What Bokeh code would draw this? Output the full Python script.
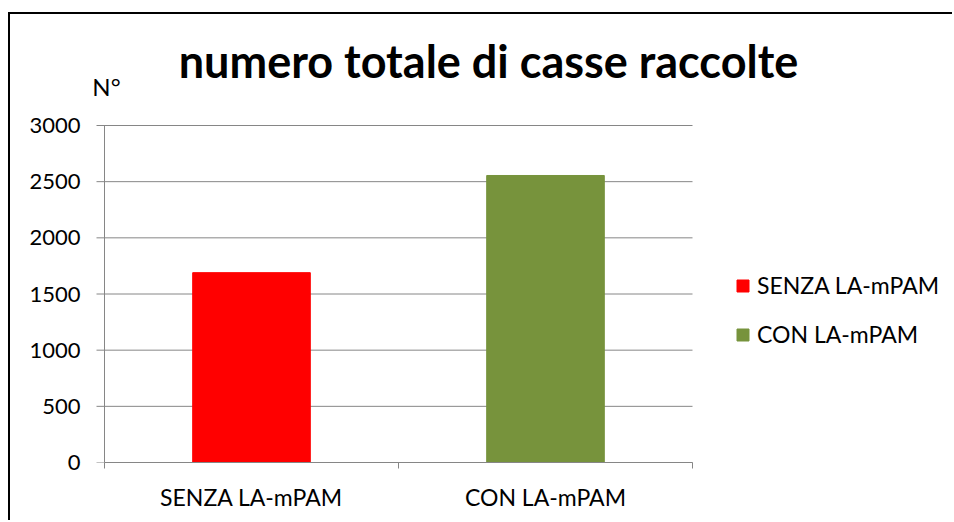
from bokeh.plotting import figure
from bokeh.layouts import column
from bokeh.models import ColumnDataSource, FixedTicker, Range1d, Label, InlineStyleSheet
from bokeh.embed import file_html
from bokeh.resources import INLINE

# ---- data ----
categories = ["SENZA LA-mPAM", "CON LA-mPAM"]
values = [1690, 2555]
colors = ["#FF0000", "#77933C"]
y_ticks = [0, 500, 1000, 1500, 2000, 2500, 3000]
title_text = "numero totale di casse raccolte"
y_unit = "N°"

n = len(categories)
x_pos = [i + 0.5 for i in range(n)]
x_bounds = list(range(n + 1))
src = ColumnDataSource(dict(x=x_pos, top=values, color=colors, cat=categories))

GRAY = "#868686"
FONT = "Lato"

# layout (canvas pixels; canvas starts at page x=10, y=14)
W, H = 944, 508
FRAME_L = 78                    # frame left edge
AXIS_X = 94                     # pixel of the value axis (x = 0)
FRAME_B = 448                   # frame bottom (0 value)
PX_3000 = 337                   # pixels from 0 to top tick
PX_CAT = 294                    # pixels per category
TICK = 8                        # tick length in pixels
y_end = y_ticks[-1] * FRAME_B / PX_3000
x_start = -(AXIS_X - FRAME_L) / PX_CAT
x_end = (W - AXIS_X) / PX_CAT

p = figure(width=W, height=H, output_backend="svg", toolbar_location=None,
           tools="", title=None,
           x_range=Range1d(x_start, x_end), y_range=Range1d(0, y_end),
           min_border_left=FRAME_L, min_border_right=0, min_border_top=0,
           min_border_bottom=H - FRAME_B)
p.toolbar.logo = None
p.outline_line_color = None
p.background_fill_color = "white"
p.border_fill_color = "white"

# grid lines with their outward tick marks, and the value-axis line
p.xgrid.grid_line_color = None
p.ygrid.grid_line_color = None
p.segment(x0=-TICK / PX_CAT, x1=n, y0=y_ticks, y1=y_ticks, line_color=GRAY, line_width=1)
p.segment(x0=[0], x1=[0], y0=[y_ticks[0]], y1=[y_ticks[-1]], line_color=GRAY, line_width=1)

p.vbar(x="x", top="top", width=0.4, color="color", source=src, legend_field="cat")

# y axis (tick labels only; line and ticks drawn above)
p.yaxis.ticker = FixedTicker(ticks=y_ticks, minor_ticks=[])
p.yaxis.axis_line_color = None
p.yaxis.major_tick_line_color = None
p.yaxis.major_tick_out = 0
p.yaxis.major_tick_in = 0
p.yaxis.minor_tick_line_color = None
p.yaxis.major_label_standoff = 8
p.yaxis.major_label_text_font = FONT
p.yaxis.major_label_text_font_size = "22px"
p.yaxis.major_label_text_color = "black"

# x axis
p.xaxis.bounds = (0, n)
p.xaxis.ticker = FixedTicker(ticks=x_pos, minor_ticks=x_bounds)
p.xaxis.major_label_overrides = {x: c for x, c in zip(x_pos, categories)}
p.xaxis.axis_line_color = GRAY
p.xaxis.major_tick_line_color = None
p.xaxis.major_tick_out = 0
p.xaxis.major_tick_in = 0
p.xaxis.minor_tick_line_color = GRAY
p.xaxis.minor_tick_out = 6
p.xaxis.minor_tick_in = 0
p.xaxis.major_label_standoff = 14
p.xaxis.major_label_text_font = FONT
p.xaxis.major_label_text_font_size = "23px"
p.xaxis.major_label_text_color = "black"

# title (as text inside the drawing area)
p.add_layout(Label(x=(488 - 104) / PX_CAT, y=y_ticks[-1], y_offset=65,
                   text=title_text, text_align="center", text_baseline="alphabetic",
                   text_font=FONT, text_font_style="bold", text_font_size="45px",
                   text_color="black"))

# unit label
p.add_layout(Label(x=0, y=y_ticks[-1], text=y_unit, x_offset=2, y_offset=39,
                   text_align="center", text_baseline="middle",
                   text_font=FONT, text_font_size="24px", text_color="black"))

# legend
lg = p.legend[0]
lg.location = (735 - 10 - FRAME_L, 114)
lg.padding = 0
lg.margin = 0
lg.border_line_color = None
lg.background_fill_alpha = 0
lg.glyph_width = 15
lg.glyph_height = 15
lg.label_height = 26
lg.label_standoff = 7
lg.spacing = 21
lg.label_text_font = FONT
lg.label_text_font_size = "23px"
lg.label_text_color = "black"

frame_css = InlineStyleSheet(css=":host { margin-left: 10px; margin-top: 14px; "
                                 "box-shadow: -2px -2px 0 0 black; }")
root = column(p, stylesheets=[frame_css])

open("out.html", "w").write(file_html(root, INLINE))
